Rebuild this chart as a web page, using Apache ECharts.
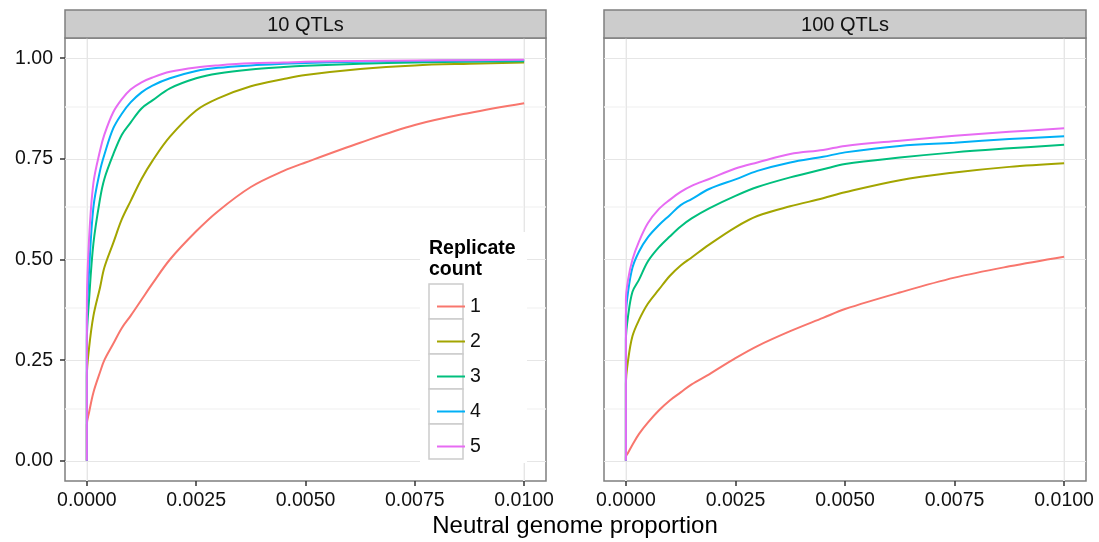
<!DOCTYPE html>
<html>
<head>
<meta charset="utf-8">
<script src="https://cdn.jsdelivr.net/npm/echarts@6/dist/echarts.min.js"></script>
<style>
html, body { margin: 0; padding: 0; background: #fff; }
#chart { width: 1099px; height: 542px; }
</style>
</head>
<body>
<div id="chart"></div>
<script>
// replicate counts and their ggplot hue colours
var repNames = ['1', '2', '3', '4', '5'];
var repColors = ['#F8766D', '#A3A500', '#00BF7D', '#00B0F6', '#E76BF3'];
var panelTitles = ['10 QTLs', '100 QTLs'];

// tick / grid values
var xTicks = [0, 0.0025, 0.005, 0.0075, 0.01];
var xMinor = [0.00125, 0.00375, 0.00625, 0.00875];
var yTicks = [0, 0.25, 0.5, 0.75, 1];
var yMinor = [0.125, 0.375, 0.625, 0.875];

// 10 QTLs panel
var xs10 = [0, 0, 0.00005, 0.00015, 0.0003, 0.0004, 0.0006, 0.0008, 0.001, 0.00125, 0.0015, 0.0019, 0.0025, 0.003, 0.00375, 0.0045, 0.005, 0.00625, 0.0075, 0.00875, 0.01];
var rep1_10 = [0, 0.09, 0.12, 0.17, 0.22, 0.25, 0.29, 0.33, 0.36, 0.40, 0.44, 0.50, 0.57, 0.62, 0.68, 0.72, 0.741, 0.79, 0.834, 0.864, 0.888];
var rep2_10 = [0, 0.21, 0.28, 0.36, 0.43, 0.48, 0.54, 0.60, 0.645, 0.70, 0.745, 0.805, 0.87, 0.90, 0.93, 0.948, 0.958, 0.973, 0.982, 0.986, 0.989];
var rep3_10 = [0, 0.30, 0.40, 0.54, 0.65, 0.70, 0.76, 0.81, 0.84, 0.875, 0.895, 0.925, 0.95, 0.962, 0.972, 0.978, 0.981, 0.986, 0.989, 0.991, 0.992];
var rep4_10 = [0, 0.35, 0.47, 0.63, 0.72, 0.76, 0.825, 0.862, 0.89, 0.915, 0.932, 0.95, 0.968, 0.976, 0.982, 0.986, 0.988, 0.991, 0.993, 0.994, 0.995];
var rep5_10 = [0, 0.38, 0.55, 0.69, 0.77, 0.81, 0.865, 0.898, 0.922, 0.94, 0.952, 0.966, 0.977, 0.982, 0.987, 0.989, 0.991, 0.993, 0.994, 0.995, 0.996];

// 100 QTLs panel
var xs100 = [0, 0, 0.00005, 0.00015, 0.0003, 0.0005, 0.00075, 0.001, 0.00125, 0.0015, 0.0019, 0.0025, 0.003, 0.00375, 0.0045, 0.005, 0.00625, 0.0075, 0.00875, 0.01];
var rep1_100 = [0, 0.01, 0.02, 0.04, 0.067, 0.095, 0.125, 0.15, 0.17, 0.19, 0.215, 0.255, 0.285, 0.322, 0.355, 0.377, 0.418, 0.455, 0.483, 0.507];
var rep2_100 = [0, 0.19, 0.25, 0.31, 0.35, 0.39, 0.425, 0.459, 0.485, 0.505, 0.537, 0.58, 0.608, 0.632, 0.652, 0.667, 0.697, 0.716, 0.73, 0.739];
var rep3_100 = [0, 0.30, 0.36, 0.42, 0.45, 0.495, 0.53, 0.557, 0.582, 0.602, 0.627, 0.658, 0.68, 0.704, 0.724, 0.737, 0.753, 0.766, 0.776, 0.785];
var rep4_100 = [0, 0.36, 0.42, 0.48, 0.52, 0.555, 0.585, 0.61, 0.635, 0.65, 0.675, 0.699, 0.72, 0.741, 0.755, 0.766, 0.782, 0.79, 0.799, 0.806];
var rep5_100 = [0, 0.40, 0.45, 0.50, 0.545, 0.59, 0.625, 0.648, 0.668, 0.683, 0.70, 0.726, 0.741, 0.762, 0.772, 0.782, 0.795, 0.807, 0.817, 0.826];

var panelXs = [xs10, xs100];
var panelYs = [
  [rep1_10, rep2_10, rep3_10, rep4_10, rep5_10],
  [rep1_100, rep2_100, rep3_100, rep4_100, rep5_100]
];

var FONT = "'Liberation Sans', Arial, sans-serif";
var panelLeft = [65, 604];
var panelWidth = [481, 482];

var chart = echarts.init(document.getElementById('chart'));

var grids = [], xAxes = [], yAxes = [], series = [];
for (var p = 0; p < 2; p++) {
  grids.push({
    left: panelLeft[p], top: 38, width: panelWidth[p], height: 443,
    show: true, backgroundColor: '#fff', borderColor: '#7f7f7f', borderWidth: 1.5
  });
  xAxes.push({
    type: 'value', gridIndex: p, min: -0.0005, max: 0.0105, position: 'bottom',
    axisLine: { show: false, onZero: false },
    splitLine: { show: false },
    axisTick: { show: true, inside: false, length: 5, customValues: xTicks, lineStyle: { color: '#333', width: 1.5 } },
    axisLabel: {
      customValues: xTicks, margin: 10, fontSize: 19.5, color: '#111', fontFamily: FONT,
      formatter: function (v) { return v.toFixed(4); }
    }
  });
  yAxes.push({
    type: 'value', gridIndex: p, min: -0.05, max: 1.05, position: 'left',
    axisLine: { show: false, onZero: false },
    splitLine: { show: false },
    axisTick: { show: p === 0, inside: false, length: 5, customValues: yTicks, lineStyle: { color: '#333', width: 1.5 } },
    axisLabel: {
      show: p === 0, customValues: yTicks, margin: 12, fontSize: 19.5, color: '#111', fontFamily: FONT,
      formatter: function (v) { return v.toFixed(2); }
    }
  });

  // grid lines drawn as mark lines so they can sit on 0 / 0.0025 etc.
  var gl = [];
  xMinor.forEach(function (v) { gl.push({ xAxis: v, lineStyle: { color: '#f4f4f4', width: 1.5 } }); });
  yMinor.forEach(function (v) { gl.push({ yAxis: v, lineStyle: { color: '#f4f4f4', width: 1.5 } }); });
  xTicks.forEach(function (v) { gl.push({ xAxis: v, lineStyle: { color: '#e6e6e6', width: 1 } }); });
  yTicks.forEach(function (v) { gl.push({ yAxis: v, lineStyle: { color: '#e6e6e6', width: 1 } }); });
  series.push({
    name: 'grid' + p, type: 'line', xAxisIndex: p, yAxisIndex: p, data: [], z: 1,
    markLine: {
      silent: true, symbol: ['none', 'none'], label: { show: false }, animation: false, z: 1,
      lineStyle: { type: 'solid' }, data: gl
    }
  });

  for (var i = 0; i < repNames.length; i++) {
    var xs = panelXs[p], ys = panelYs[p][i];
    series.push({
      name: repNames[i], type: 'line', xAxisIndex: p, yAxisIndex: p,
      data: xs.map(function (x, k) { return [x, ys[k]]; }),
      showSymbol: false, smooth: 0.35, color: repColors[i],
      lineStyle: { width: 2, color: repColors[i] },
      z: 3, animation: false
    });
  }
}

var graphics = [];
for (var p = 0; p < 2; p++) {
  graphics.push({
    type: 'rect', z: 5,
    shape: { x: panelLeft[p], y: 10, width: panelWidth[p], height: 28 },
    style: { fill: '#cccccc', stroke: '#7f7f7f', lineWidth: 1.5 }
  });
  graphics.push({
    type: 'text', z: 6, x: panelLeft[p] + panelWidth[p] / 2, y: 25,
    style: { text: panelTitles[p], font: '20px ' + FONT, fill: '#111',
      textAlign: 'center', textVerticalAlign: 'middle', align: 'center', verticalAlign: 'middle' }
  });
}
// legend box inside left panel
graphics.push({ type: 'rect', z: 7, shape: { x: 420, y: 232, width: 107, height: 231 }, style: { fill: '#fff' } });
for (var i = 0; i < repNames.length; i++) {
  graphics.push({
    type: 'rect', z: 8, shape: { x: 429, y: 284 + 35 * i, width: 34, height: 35 },
    style: { fill: '#fff', stroke: '#cccccc', lineWidth: 1.5 }
  });
}
graphics.push({
  type: 'text', z: 9, x: 429, y: 249,
  style: { text: 'Replicate', font: 'bold 19.5px ' + FONT, fill: '#000', textVerticalAlign: 'middle', verticalAlign: 'middle' }
});
graphics.push({
  type: 'text', z: 9, x: 429, y: 270,
  style: { text: 'count', font: 'bold 19.5px ' + FONT, fill: '#000', textVerticalAlign: 'middle', verticalAlign: 'middle' }
});
graphics.push({
  type: 'text', z: 9, x: 575, y: 526,
  style: { text: 'Neutral genome proportion', font: '24px ' + FONT, fill: '#000',
    textAlign: 'center', textVerticalAlign: 'middle', align: 'center', verticalAlign: 'middle' }
});

chart.setOption({
  animation: false,
  backgroundColor: '#fff',
  grid: grids,
  xAxis: xAxes,
  yAxis: yAxes,
  legend: {
    data: repNames, orient: 'vertical', left: 432, top: 284, z: 20,
    itemWidth: 28, itemHeight: 2, itemGap: 0, icon: 'rect', selectedMode: false,
    textStyle: { fontSize: 19.5, lineHeight: 35, color: '#111', fontFamily: FONT, padding: [0, 0, 0, 0] }
  },
  graphic: graphics,
  series: series
});
</script>
</body>
</html>
